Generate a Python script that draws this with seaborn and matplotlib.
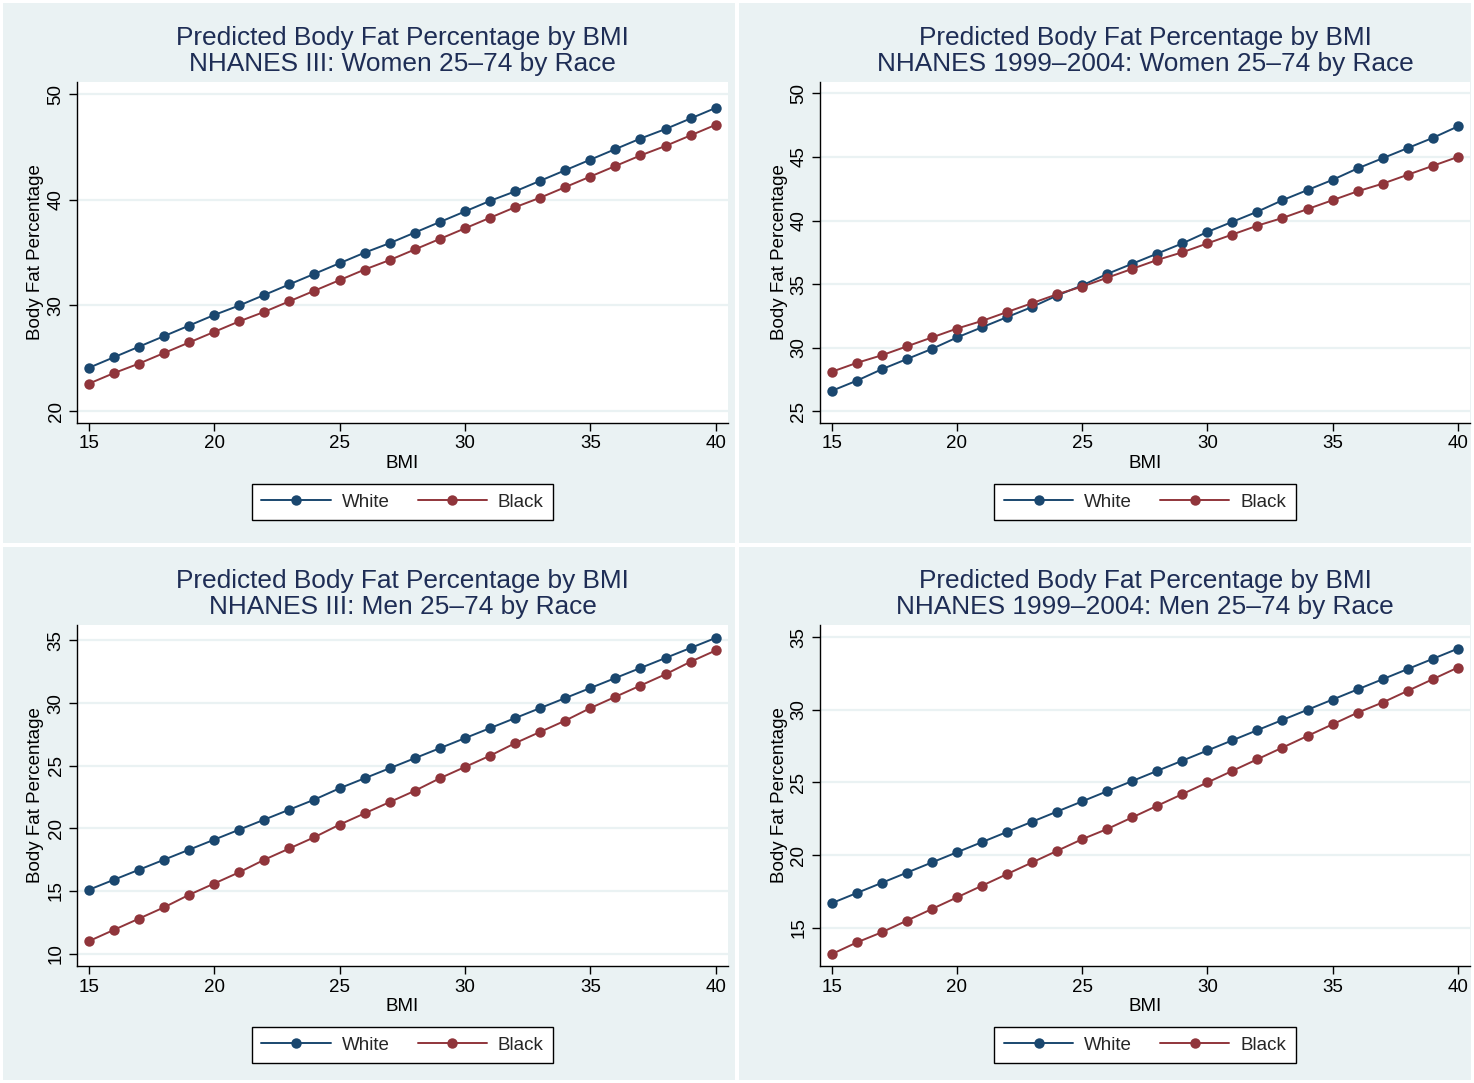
import numpy as np
import pandas as pd
import matplotlib
matplotlib.use("Agg")
import matplotlib.pyplot as plt
from matplotlib.lines import Line2D
from matplotlib.patches import Rectangle
import seaborn as sns

# ---------------- data ----------------
bmi = list(range(15, 41))
races = ["White", "Black"]

women3_white = [24.1, 25.1, 26.1, 27.1, 28.1, 29.1, 30.0, 31.0, 32.0, 33.0, 34.0, 35.0, 35.9,
                36.9, 37.9, 38.9, 39.9, 40.8, 41.8, 42.8, 43.8, 44.8, 45.8, 46.7, 47.7, 48.7]
women3_black = [22.6, 23.6, 24.5, 25.5, 26.5, 27.5, 28.5, 29.4, 30.4, 31.4, 32.4, 33.4, 34.3,
                35.3, 36.3, 37.3, 38.3, 39.3, 40.2, 41.2, 42.2, 43.2, 44.2, 45.1, 46.1, 47.1]
women99_white = [26.6, 27.4, 28.3, 29.1, 29.9, 30.8, 31.6, 32.4, 33.2, 34.1, 34.9, 35.8, 36.6,
                 37.4, 38.2, 39.1, 39.9, 40.7, 41.6, 42.4, 43.2, 44.1, 44.9, 45.7, 46.5, 47.4]
women99_black = [28.1, 28.8, 29.4, 30.1, 30.8, 31.5, 32.1, 32.8, 33.5, 34.2, 34.8, 35.5, 36.2,
                 36.9, 37.5, 38.2, 38.9, 39.6, 40.2, 40.9, 41.6, 42.3, 42.9, 43.6, 44.3, 45.0]
men3_white = [15.1, 15.9, 16.7, 17.5, 18.3, 19.1, 19.9, 20.7, 21.5, 22.3, 23.2, 24.0, 24.8,
              25.6, 26.4, 27.2, 28.0, 28.8, 29.6, 30.4, 31.2, 32.0, 32.8, 33.6, 34.4, 35.2]
men3_black = [11.0, 11.9, 12.8, 13.7, 14.7, 15.6, 16.5, 17.5, 18.4, 19.3, 20.3, 21.2, 22.1,
              23.0, 24.0, 24.9, 25.8, 26.8, 27.7, 28.6, 29.6, 30.5, 31.4, 32.3, 33.3, 34.2]
men99_white = [16.7, 17.4, 18.1, 18.8, 19.5, 20.2, 20.9, 21.6, 22.3, 23.0, 23.7, 24.4, 25.1,
               25.8, 26.5, 27.2, 27.9, 28.6, 29.3, 30.0, 30.7, 31.4, 32.1, 32.8, 33.5, 34.2]
men99_black = [13.2, 14.0, 14.7, 15.5, 16.3, 17.1, 17.9, 18.7, 19.5, 20.3, 21.1, 21.8, 22.6,
               23.4, 24.2, 25.0, 25.8, 26.6, 27.4, 28.2, 29.0, 29.8, 30.5, 31.3, 32.1, 32.9]

titles = [
    ("Predicted Body Fat Percentage by BMI", "NHANES III: Women 25\u201374 by Race"),
    ("Predicted Body Fat Percentage by BMI", "NHANES 1999\u20132004: Women 25\u201374 by Race"),
    ("Predicted Body Fat Percentage by BMI", "NHANES III: Men 25\u201374 by Race"),
    ("Predicted Body Fat Percentage by BMI", "NHANES 1999\u20132004: Men 25\u201374 by Race"),
]
series = [
    (women3_white, women3_black),
    (women99_white, women99_black),
    (men3_white, men3_black),
    (men99_white, men99_black),
]
yticks_list = [[20, 30, 40, 50], [25, 30, 35, 40, 45, 50], [10, 15, 20, 25, 30, 35], [15, 20, 25, 30, 35]]
ylims = [(18.88, 51.15), (24.07, 50.9), (9.02, 36.23), (12.38, 35.83)]
xticks = [15, 20, 25, 30, 35, 40]

# ---------------- style ----------------
sns.set_theme(style="white")
plt.rcParams["font.family"] = ["Liberation Sans", "DejaVu Sans"]

NAVY = "#1A476F"
MAROON = "#90353B"
BG = "#EAF2F3"
TITLE_C = "#1E2D55"
palette = {"White": NAVY, "Black": MAROON}
FS = 13.5

W, H = 1474, 1083
fig = plt.figure(figsize=(W / 100, H / 100), dpi=100, facecolor="white")

# panel backgrounds (pixel boxes: x0, y0, x1, y1)
panels = [(3, 3, 735, 543), (739, 3, 1471, 543), (3, 547, 735, 1080), (739, 547, 1471, 1080)]
# plot areas
plots = [(77, 82, 728, 423), (820, 82, 1470, 423), (77, 625, 728, 966), (820, 625, 1470, 966)]

for (x0, y0, x1, y1) in panels:
    fig.patches.append(Rectangle((x0 / W, 1 - y1 / H), (x1 - x0) / W, (y1 - y0) / H,
                                 transform=fig.transFigure, facecolor=BG, edgecolor="none", zorder=-5))

for i, ((x0, y0, x1, y1), (wv, bv)) in enumerate(zip(plots, series)):
    ax = fig.add_axes([x0 / W, 1 - y1 / H, (x1 - x0) / W, (y1 - y0) / H])
    ax.set_facecolor("white")
    df = pd.DataFrame({
        "BMI": bmi * 2,
        "Body Fat Percentage": list(wv) + list(bv),
        "Race": ["White"] * len(bmi) + ["Black"] * len(bmi),
    })
    sns.lineplot(data=df, x="BMI", y="Body Fat Percentage", hue="Race", hue_order=races,
                 palette=palette, marker="o", markersize=7.5, markeredgewidth=0,
                 linewidth=1.4, ax=ax, legend=False, zorder=3)

    ax.set_xlim(14.53, 40.49)
    ax.set_ylim(*ylims[i])
    ax.set_xticks(xticks)
    ax.set_yticks(yticks_list[i])
    ax.grid(axis="y", color=BG, linewidth=1.6, zorder=0)
    ax.grid(axis="x", visible=False)
    for s in ["top", "right"]:
        ax.spines[s].set_visible(False)
    for s in ["left", "bottom"]:
        ax.spines[s].set_color("black")
        ax.spines[s].set_linewidth(1.0)
    ax.tick_params(axis="both", direction="out", length=6, width=1, color="black",
                   labelsize=FS, labelcolor="black", pad=3, left=True, bottom=True)
    ax.tick_params(axis="y", labelrotation=90)
    for lab in ax.get_yticklabels():
        lab.set_va("center")

    ax.set_xlabel("BMI", fontsize=FS, color="black")
    ax.set_ylabel("Body Fat Percentage", fontsize=FS, color="black")
    ax.xaxis.set_label_coords(0.5, -0.093)
    ax.yaxis.set_label_coords(-0.05, 0.5)

    cx = (x0 + x1) / 2
    fig.text(cx / W, 1 - (y0 - 44) / H, titles[i][0], ha="center", va="center",
             fontsize=18.9, color=TITLE_C)
    fig.text(cx / W, 1 - (y0 - 18) / H, titles[i][1], ha="center", va="center",
             fontsize=18.9, color=TITLE_C)

    handles = [Line2D([], [], color=palette[r], marker="o", markersize=7.5, markeredgewidth=0,
                      linewidth=1.4) for r in races]
    leg = ax.legend(handles, races, loc="center", bbox_to_anchor=(0.5, -0.232), ncol=2,
                    frameon=True, fancybox=False, edgecolor="black", facecolor="white",
                    framealpha=1, fontsize=FS, handlelength=3.7, handletextpad=0.58,
                    columnspacing=1.5, borderpad=0.5, numpoints=1)
    leg.get_frame().set_linewidth(1.0)

fig.savefig("out.png", dpi=100, facecolor="white")
